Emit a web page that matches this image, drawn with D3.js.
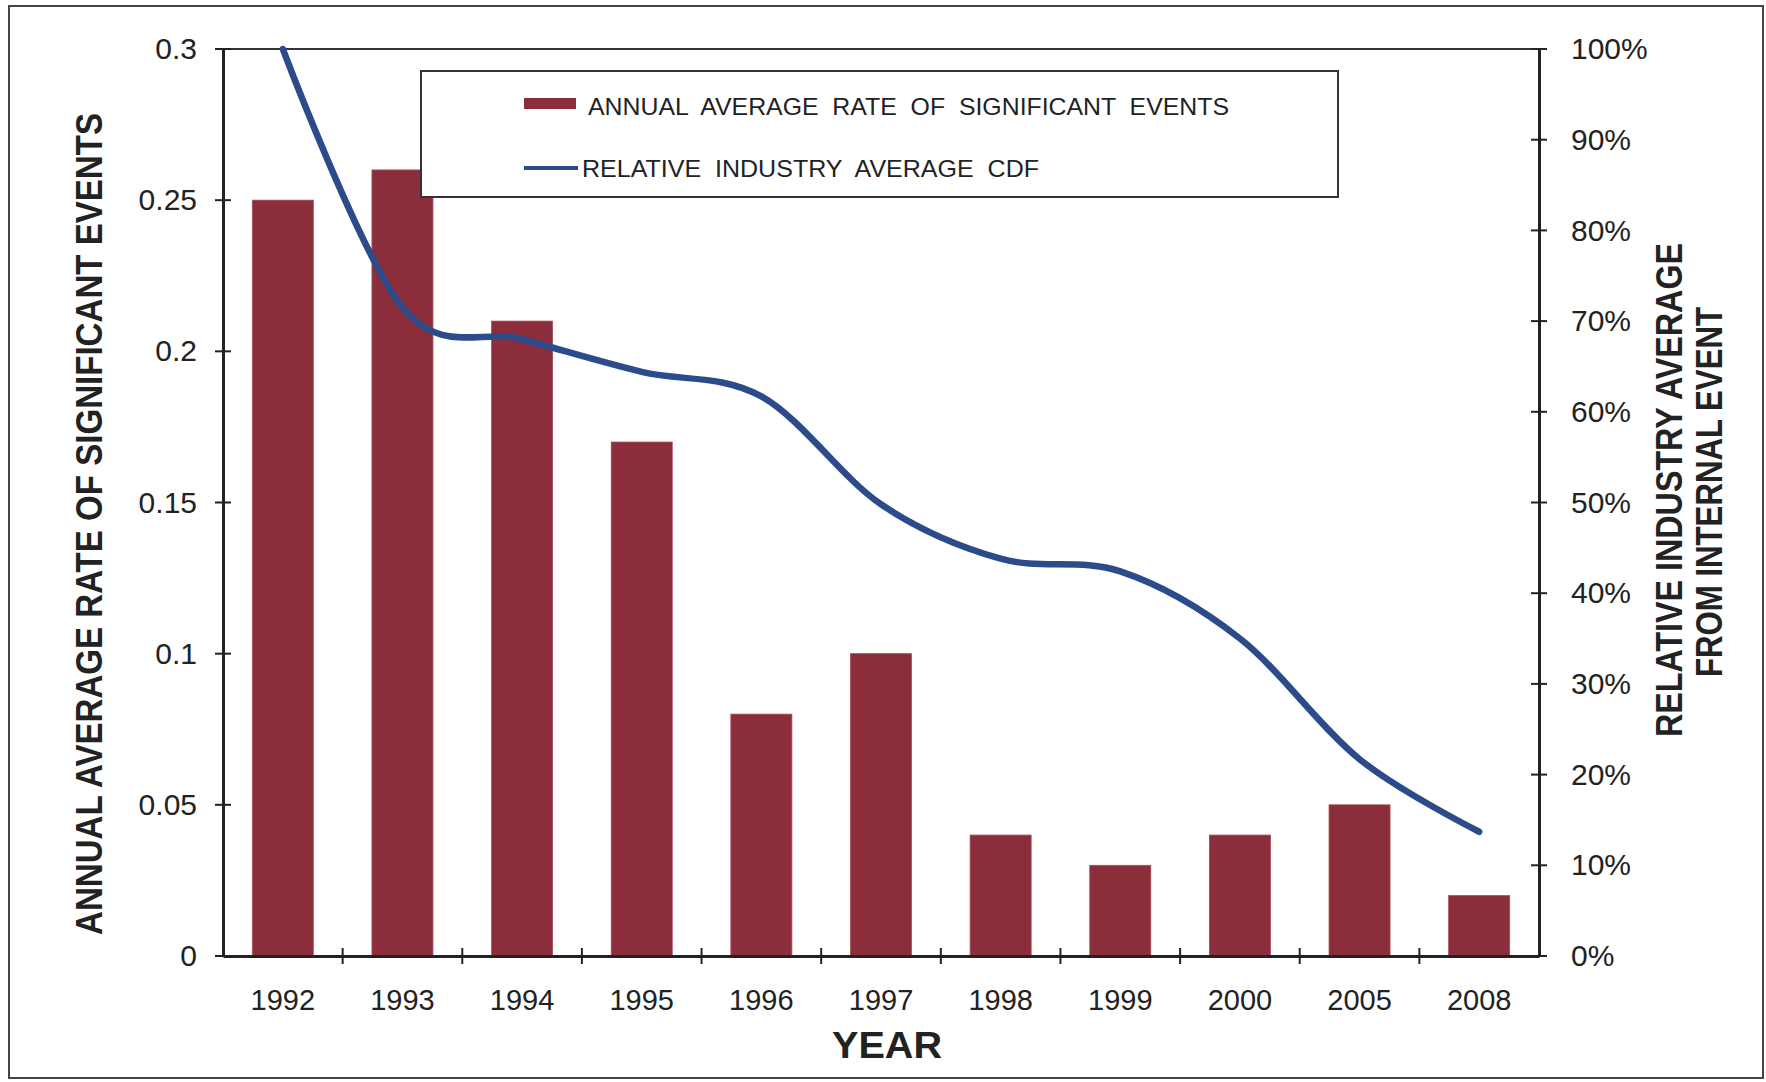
<!DOCTYPE html>
<html>
<head>
<meta charset="utf-8">
<script src="https://cdn.jsdelivr.net/npm/d3@7"></script>
<style>
  html, body { margin: 0; padding: 0; background: #fff; }
  svg { display: block; }
  text { font-family: "Liberation Sans", Arial, sans-serif; fill: #222; }
</style>
</head>
<body>
<svg id="chart" width="1766" height="1082"></svg>
<script>
// ---- data ----
const years = ["1992","1993","1994","1995","1996","1997","1998","1999","2000","2005","2008"];
const rates = [0.25, 0.26, 0.21, 0.17, 0.08, 0.10, 0.04, 0.03, 0.04, 0.05, 0.02];
const cdf   = [1.00, 0.715, 0.68, 0.644, 0.617, 0.498, 0.438, 0.424, 0.35, 0.217, 0.137];
const leftTicks  = [0, 0.05, 0.1, 0.15, 0.2, 0.25, 0.3];
const leftLabels = ["0", "0.05", "0.1", "0.15", "0.2", "0.25", "0.3"];
const rightTicks = [0, 0.1, 0.2, 0.3, 0.4, 0.5, 0.6, 0.7, 0.8, 0.9, 1.0];
const rightLabels = ["0%","10%","20%","30%","40%","50%","60%","70%","80%","90%","100%"];
const barName  = "ANNUAL  AVERAGE  RATE  OF  SIGNIFICANT  EVENTS";
const lineName = "RELATIVE  INDUSTRY  AVERAGE  CDF";

// ---- layout ----
const L = 223, R = 1539, T = 49, B = 956;
const barColor = "#8B2D3A", lineColor = "#2C4B8A", axisColor = "#222";

const svg = d3.select("#chart");

// outer frame
svg.append("rect").attr("x", 9).attr("y", 6).attr("width", 1754).attr("height", 1072)
  .attr("fill", "none").attr("stroke", "#444").attr("stroke-width", 2);

const x = d3.scaleBand().domain(years).range([L, R]).paddingInner(0.49).paddingOuter(0.245);
const yL = d3.scaleLinear().domain([0, 0.3]).range([B, T]);
const yR = d3.scaleLinear().domain([0, 1]).range([B, T]);

// top border of plot area
svg.append("line").attr("x1", L).attr("x2", R).attr("y1", T).attr("y2", T)
  .attr("stroke", "#333").attr("stroke-width", 2);

// bars
svg.append("g").selectAll("rect").data(years).join("rect")
  .attr("x", d => x(d))
  .attr("width", x.bandwidth())
  .attr("y", (d, i) => yL(rates[i]))
  .attr("height", (d, i) => yL(0) - yL(rates[i]))
  .attr("fill", barColor)
  .attr("stroke", "#a84a58").attr("stroke-width", 0.8);

// line
const line = d3.line()
  .x((d, i) => x(years[i]) + x.bandwidth() / 2)
  .y(d => yR(d))
  .curve(d3.curveCardinal.tension(0));
svg.append("path").datum(cdf)
  .attr("d", line)
  .attr("fill", "none")
  .attr("stroke", lineColor)
  .attr("stroke-width", 6.5)
  .attr("stroke-linecap", "round");

// left axis
const gL = svg.append("g").attr("transform", `translate(${L},0)`)
  .call(d3.axisLeft(yL).tickValues(leftTicks).tickSize(0).tickPadding(26)
    .tickFormat((d, i) => leftLabels[i]));
gL.select(".domain").attr("stroke", axisColor).attr("stroke-width", 3);
gL.selectAll("text").attr("font-size", 30).attr("fill", "#222")
  .style("font-family", "'Liberation Sans', Arial, sans-serif");
svg.append("g").selectAll("line").data(leftTicks).join("line")
  .attr("x1", L - 8).attr("x2", L + 8)
  .attr("y1", d => yL(d)).attr("y2", d => yL(d))
  .attr("stroke", axisColor).attr("stroke-width", 2);

// right axis
const gR = svg.append("g").attr("transform", `translate(${R},0)`)
  .call(d3.axisRight(yR).tickValues(rightTicks).tickSize(0).tickPadding(32)
    .tickFormat((d, i) => rightLabels[i]));
gR.select(".domain").attr("stroke", axisColor).attr("stroke-width", 3);
gR.selectAll("text").attr("font-size", 30).attr("fill", "#222")
  .style("font-family", "'Liberation Sans', Arial, sans-serif");
svg.append("g").selectAll("line").data(rightTicks).join("line")
  .attr("x1", R - 8).attr("x2", R + 8)
  .attr("y1", d => yR(d)).attr("y2", d => yR(d))
  .attr("stroke", axisColor).attr("stroke-width", 2);

// bottom axis
const gB = svg.append("g").attr("transform", `translate(0,${B})`)
  .call(d3.axisBottom(x).tickSize(0).tickPadding(33));
gB.select(".domain").attr("stroke", axisColor).attr("stroke-width", 3);
gB.selectAll("text").attr("font-size", 29).attr("fill", "#222")
  .style("font-family", "'Liberation Sans', Arial, sans-serif");
const gap = (x.step() - x.bandwidth()) / 2;
svg.append("g").selectAll("line").data(years.slice(1)).join("line")
  .attr("x1", d => x(d) - gap).attr("x2", d => x(d) - gap)
  .attr("y1", B - 8).attr("y2", B + 8)
  .attr("stroke", axisColor).attr("stroke-width", 2);

// axis titles
svg.append("text").attr("x", 887).attr("y", 1058).attr("text-anchor", "middle")
  .attr("font-size", 37).attr("font-weight", "bold")
  .attr("textLength", 110).attr("lengthAdjust", "spacingAndGlyphs")
  .text("YEAR");

svg.append("text").attr("transform", "translate(102,524) rotate(-90)")
  .attr("text-anchor", "middle").attr("font-size", 36).attr("font-weight", "bold")
  .attr("textLength", 822).attr("lengthAdjust", "spacingAndGlyphs")
  .text("ANNUAL AVERAGE RATE OF SIGNIFICANT EVENTS");

svg.append("text").attr("transform", "translate(1682,490) rotate(-90)")
  .attr("text-anchor", "middle").attr("font-size", 37).attr("font-weight", "bold")
  .attr("textLength", 494).attr("lengthAdjust", "spacingAndGlyphs")
  .text("RELATIVE INDUSTRY AVERAGE");
svg.append("text").attr("transform", "translate(1722,492) rotate(-90)")
  .attr("text-anchor", "middle").attr("font-size", 37).attr("font-weight", "bold")
  .attr("textLength", 370).attr("lengthAdjust", "spacingAndGlyphs")
  .text("FROM INTERNAL EVENT");

// legend
const lg = svg.append("g");
lg.append("rect").attr("x", 421).attr("y", 71).attr("width", 917).attr("height", 126)
  .attr("fill", "#fff").attr("stroke", "#333").attr("stroke-width", 2);
lg.append("rect").attr("x", 524).attr("y", 98).attr("width", 52).attr("height", 11)
  .attr("fill", barColor);
lg.append("text").attr("x", 588).attr("y", 115).attr("font-size", 24)
  .attr("textLength", 641).attr("lengthAdjust", "spacingAndGlyphs")
  .style("white-space", "pre").text(barName);
lg.append("line").attr("x1", 524).attr("x2", 578).attr("y1", 168).attr("y2", 168)
  .attr("stroke", lineColor).attr("stroke-width", 4);
lg.append("text").attr("x", 582).attr("y", 177).attr("font-size", 24)
  .attr("textLength", 457).attr("lengthAdjust", "spacingAndGlyphs")
  .style("white-space", "pre").text(lineName);
</script>
</body>
</html>
